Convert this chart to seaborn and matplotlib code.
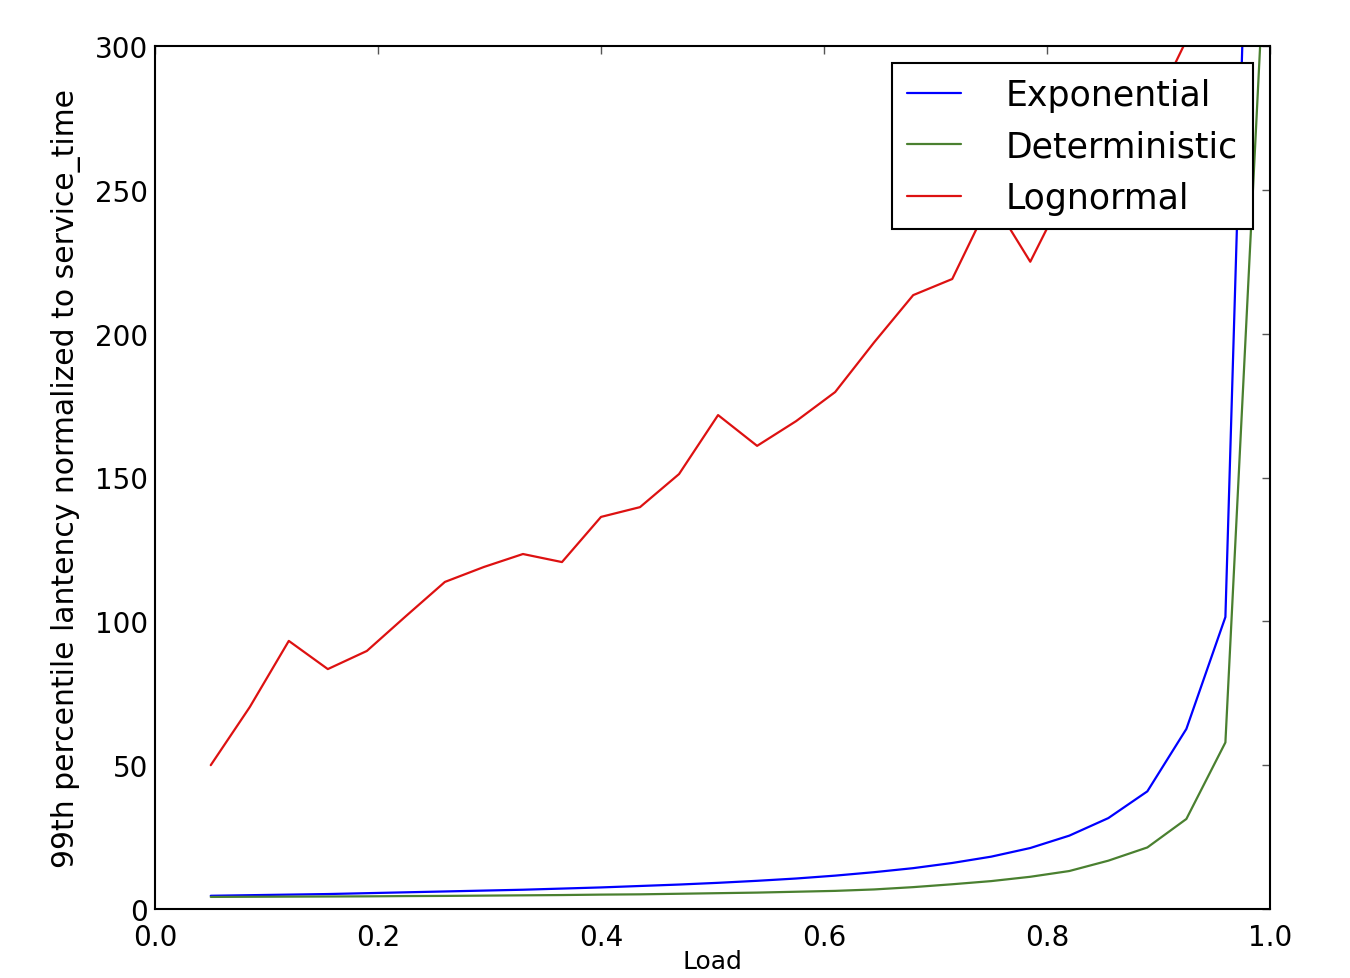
import numpy as np
import pandas as pd
import matplotlib
matplotlib.use("Agg")
import matplotlib.pyplot as plt
import seaborn as sns

# load levels (x axis)
load = [0.05, 0.085, 0.12, 0.155, 0.19, 0.225, 0.26, 0.295, 0.33, 0.365,
        0.40, 0.435, 0.47, 0.505, 0.54, 0.575, 0.61, 0.645, 0.68, 0.715,
        0.75, 0.785, 0.82, 0.855, 0.89, 0.925, 0.96, 0.995]

# 99th percentile latency / service_time
exponential = [4.6, 4.8, 5.0, 5.2, 5.5, 5.8, 6.1, 6.4, 6.7, 7.1,
               7.5, 8.0, 8.5, 9.1, 9.8, 10.6, 11.6, 12.8, 14.2, 16.0,
               18.2, 21.2, 25.5, 31.6, 40.9, 62.6, 101.5, 560.0]
deterministic = [4.2, 4.25, 4.3, 4.35, 4.4, 4.5, 4.55, 4.65, 4.75, 4.85,
                 5.0, 5.1, 5.3, 5.5, 5.7, 6.0, 6.3, 6.8, 7.6, 8.6,
                 9.7, 11.2, 13.2, 16.8, 21.4, 31.3, 57.9, 330.0]
lognormal = [50.0, 70.2, 93.2, 83.4, 89.7, 101.8, 113.7, 118.9, 123.4, 120.6,
             136.3, 139.7, 151.2, 171.7, 161.0, 169.6, 179.7, 197.0, 213.4, 219.0,
             247.0, 225.0, 252.0, 262.0, 274.0, 302.0, 330.0, 380.0]

series_names = ["Exponential", "Deterministic", "Lognormal"]
series_colors = ["#0000ff", "#4a8030", "#dd1111"]


def build_frame():
    parts = []
    for name, vals in zip(series_names, [exponential, deterministic, lognormal]):
        parts.append(pd.DataFrame({"load": load, "latency": vals, "dist": name}))
    return pd.concat(parts, ignore_index=True)


def main():
    df = build_frame()

    sns.set_style("white")
    plt.rcParams['font.family'] = ['DejaVu Sans']
    plt.rcParams['text.color'] = 'black'
    plt.rcParams['axes.labelcolor'] = 'black'
    plt.rcParams['xtick.labelcolor'] = 'black'
    plt.rcParams['ytick.labelcolor'] = 'black'

    fig = plt.figure(figsize=(13.5, 9.79), dpi=100)
    ax = fig.add_axes([155 / 1350, 1 - 910 / 979, 1115 / 1350, 863 / 979])

    sns.lineplot(data=df, x="load", y="latency", hue="dist",
                 hue_order=series_names, palette=series_colors,
                 linewidth=1.6, sort=False, estimator=None, ax=ax)

    ax.set_xlim(0, 1.0)
    ax.set_ylim(0, 300)
    ax.set_xticks([0.0, 0.2, 0.4, 0.6, 0.8, 1.0])
    ax.set_yticks([0, 50, 100, 150, 200, 250, 300])

    ax.tick_params(axis="both", direction="in", length=6, width=1,
                   color="#555555", labelsize=20, top=True, right=True)
    ax.tick_params(axis="x", pad=10)
    ax.tick_params(axis="y", pad=5)
    for sp in ax.spines.values():
        sp.set_visible(True)
        sp.set_color("black")
        sp.set_linewidth(1.5)

    # the reference crops this label at the bottom edge; keep it just inside
    ax.set_xlabel("Load", fontsize=18, labelpad=-1)
    ax.set_ylabel("99th percentile lantency normalized to service_time",
                  fontsize=21.5, labelpad=10)

    handles, labels = ax.get_legend_handles_labels()
    leg = ax.legend(handles, labels, loc="upper right", fontsize=25,
                    frameon=True, fancybox=False, framealpha=1,
                    edgecolor="black", handlelength=1.55, handletextpad=1.3,
                    borderpad=0.42, labelspacing=0.5, borderaxespad=0.5)
    leg.get_frame().set_linewidth(1.5)
    for line in leg.get_lines():
        line.set_linewidth(1.6)

    fig.savefig("out.png", dpi=100)


if __name__ == '__main__':
    main()
